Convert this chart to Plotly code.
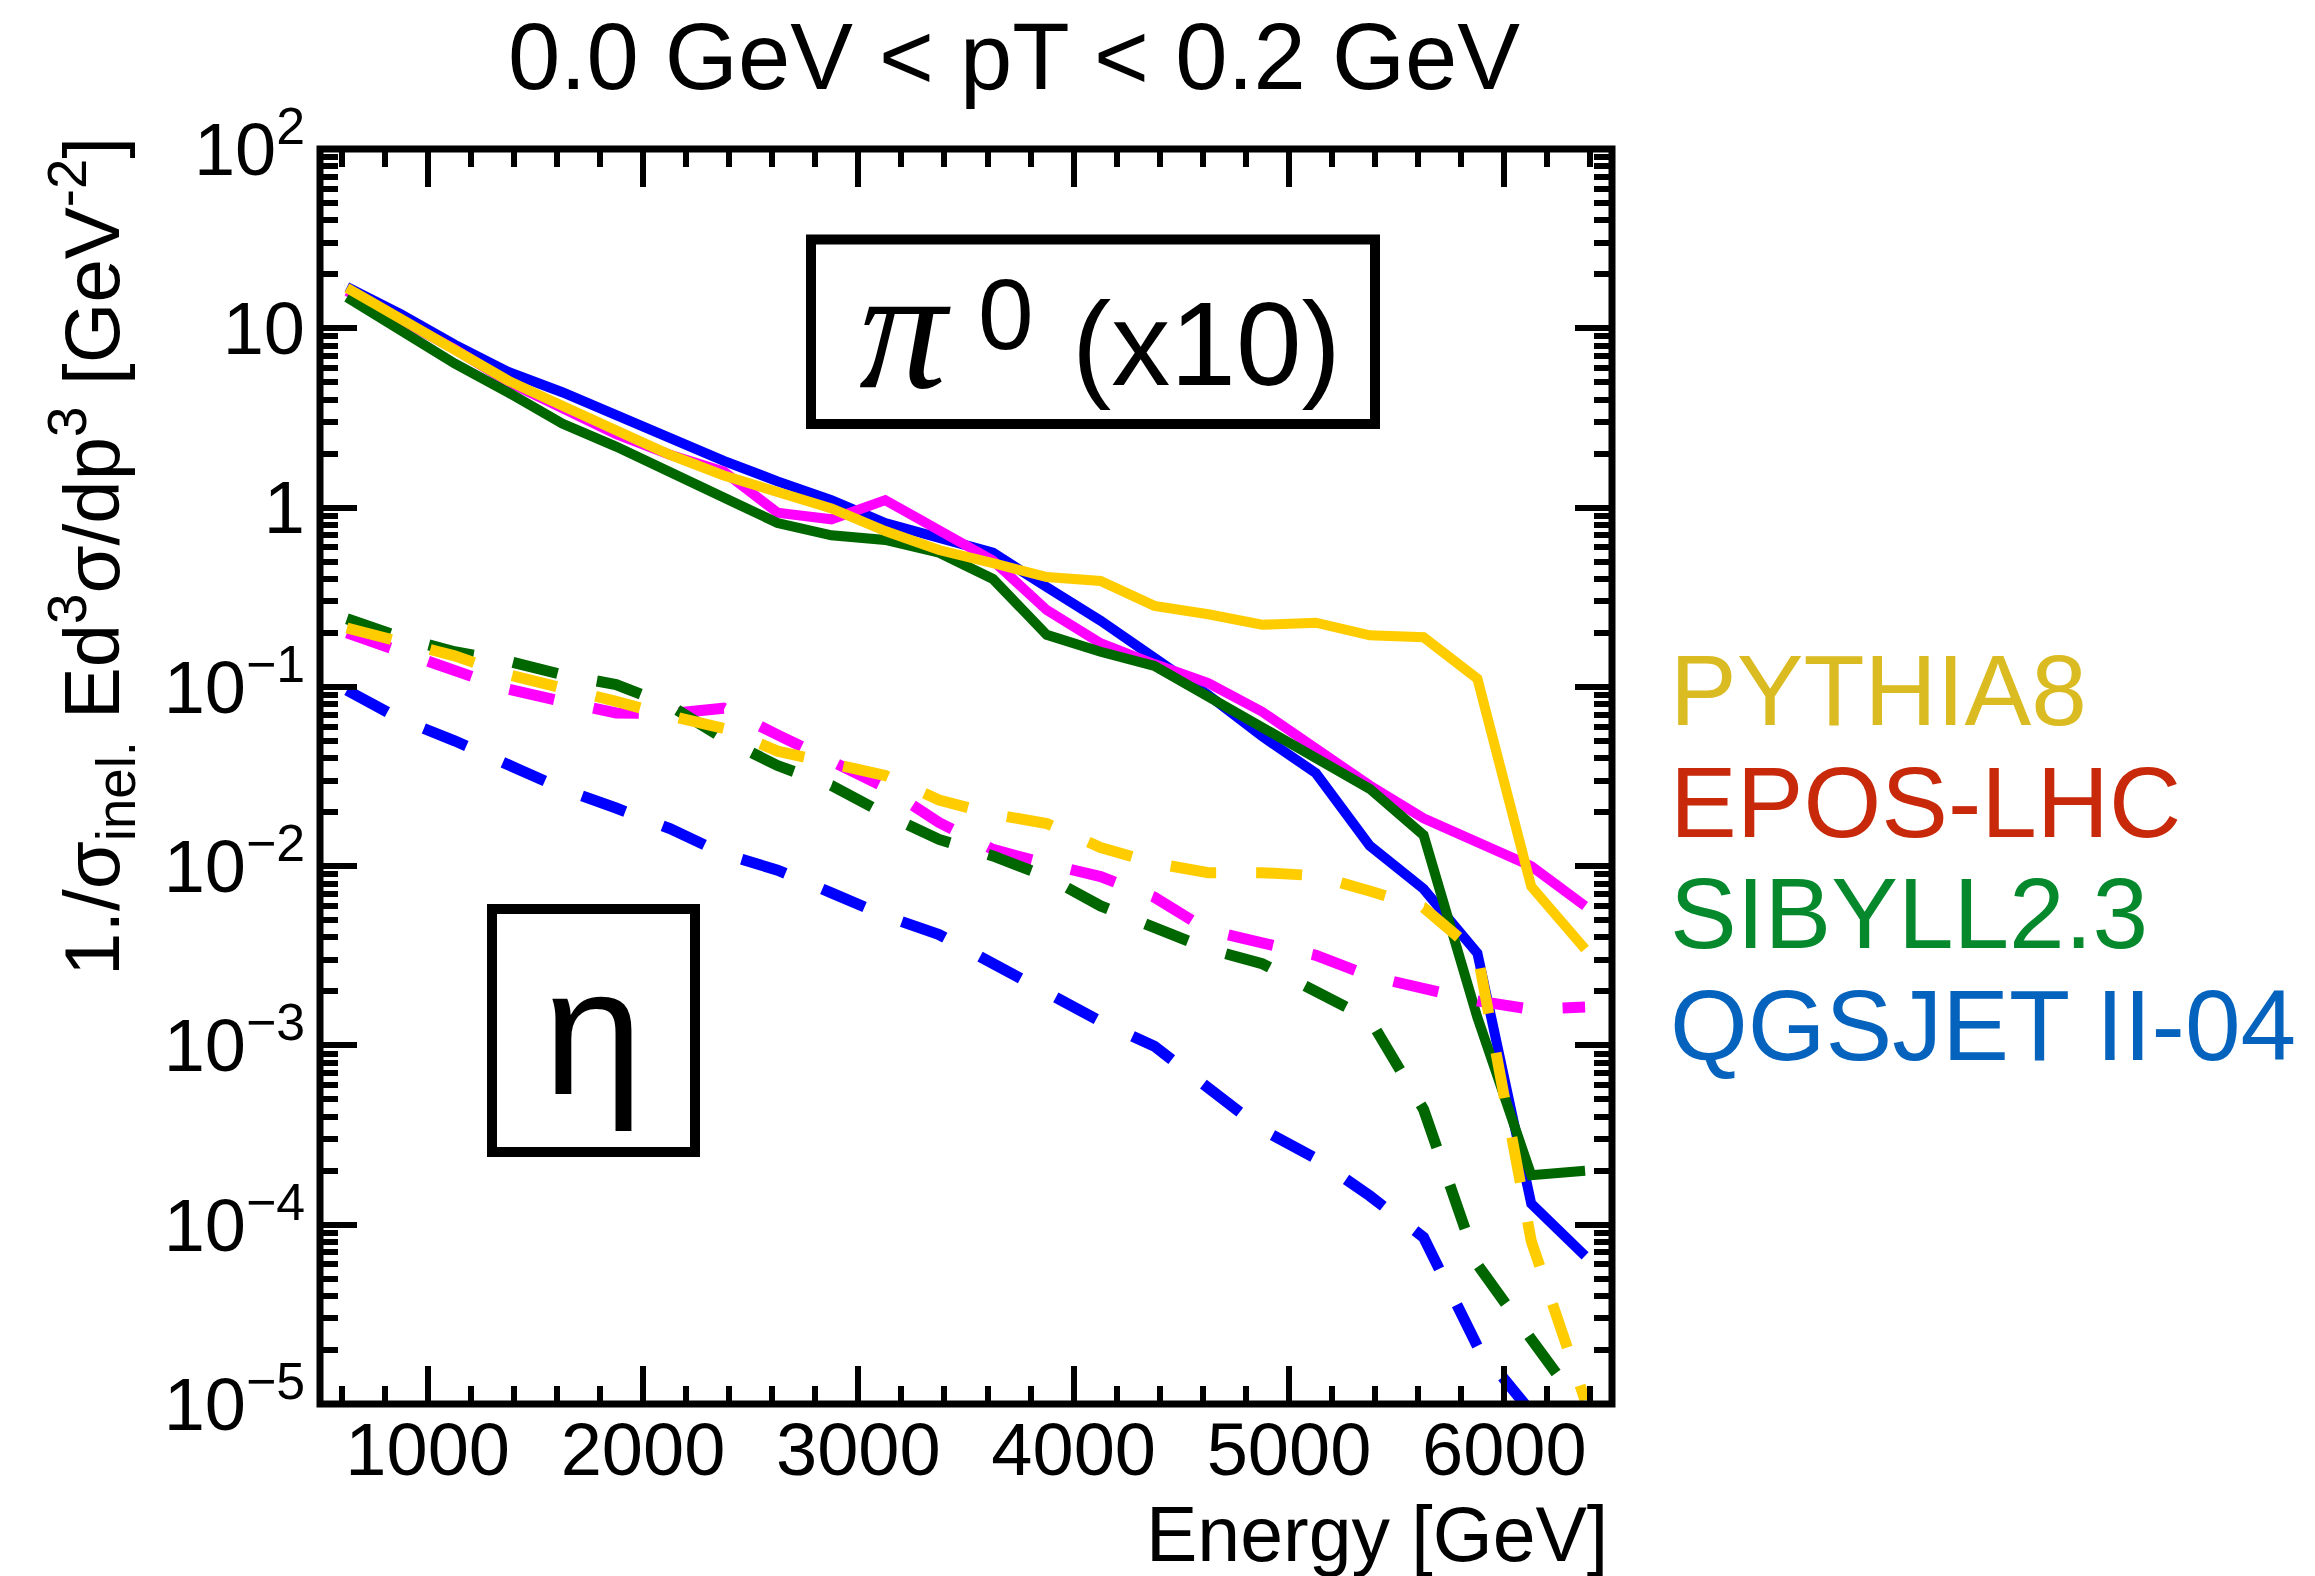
import plotly.graph_objects as go

# ---------------- data ----------------
energy = [625, 875, 1125, 1375, 1625, 1875, 2125, 2375, 2625, 2875, 3125, 3375,
          3625, 3875, 4125, 4375, 4625, 4875, 5125, 5375, 5625, 5875, 6125, 6375]

# pi0 (x10), solid lines
pythia_pi0 = [16.8, 11.4, 7.7, 5.1, 3.7, 2.7, 1.97, 1.51, 1.22, 0.99, 0.74, 0.58,
              0.49, 0.41, 0.39, 0.283, 0.254, 0.222, 0.228, 0.194, 0.189, 0.111, 0.0077, 0.00345]
epos_pi0 = [16.1, 11.3, 7.66, 5.0, 3.54, 2.57, 1.97, 1.59, 0.935, 0.86, 1.10, 0.74,
            0.507, 0.268, 0.175, 0.134, 0.105, 0.0727, 0.045, 0.0282, 0.0185, 0.0138, 0.0100, 0.0060]
sibyll_pi0 = [14.9, 9.7, 6.36, 4.38, 2.94, 2.19, 1.59, 1.16, 0.82, 0.70, 0.66, 0.56,
              0.40, 0.195, 0.157, 0.131, 0.0875, 0.0587, 0.0405, 0.027, 0.0149, 0.00143, 1.89e-4, 2.0e-4]
qgsjet_pi0 = [17.0, 12.0, 8.1, 5.7, 4.4, 3.27, 2.37, 1.82, 1.40, 1.10, 0.82, 0.68,
              0.56, 0.36, 0.234, 0.145, 0.090, 0.053, 0.033, 0.0130, 0.00746, 0.00327, 1.31e-4, 6.7e-5]

# eta, dashed lines
pythia_eta = [0.213, 0.175, 0.149, 0.117, 0.100, 0.083, 0.0689, 0.0587, 0.0438, 0.0374, 0.032, 0.0234,
              0.0195, 0.0173, 0.0127, 0.0104, 0.0092, 0.0092, 0.00885, 0.00726, 0.00587, 0.00327, 8.1e-5, 1.05e-5]
epos_eta = [0.200, 0.157, 0.120, 0.097, 0.083, 0.0715, 0.071, 0.076, 0.054, 0.0384, 0.0275, 0.0175,
            0.0124, 0.0103, 0.00875, 0.00671, 0.00439, 0.00373, 0.00318, 0.00244, 0.00208, 0.00177, 0.00159, 0.00164]
sibyll_eta = [0.240, 0.189, 0.157, 0.139, 0.117, 0.103, 0.0787, 0.0514, 0.0364, 0.0282, 0.0195, 0.0141,
              0.0114, 0.00875, 0.0060, 0.0045, 0.00345, 0.00286, 0.00202, 0.0014, 4.4e-4, 6.0e-5, 2.3e-5, 9e-6]
qgsjet_eta = [0.0957, 0.066, 0.050, 0.0364, 0.027, 0.0211, 0.0162, 0.0117, 0.0095, 0.0071, 0.00528, 0.00415,
              0.00287, 0.00202, 0.00136, 9.9e-4, 5.8e-4, 3.4e-4, 2.34e-4, 1.45e-4, 8.5e-5, 2.1e-5, 9e-6, 3e-6]

models = ["PYTHIA8", "EPOS-LHC", "SIBYLL2.3", "QGSJET II-04"]
line_colors = ["#FFCC00", "#FF00FF", "#006600", "#0000FF"]
label_colors = ["#DBBB22", "#C8290A", "#06892D", "#0563BE"]
pi0_series = [pythia_pi0, epos_pi0, sibyll_pi0, qgsjet_pi0]
eta_series = [pythia_eta, epos_eta, sibyll_eta, qgsjet_eta]

x_tick_vals = [1000, 2000, 3000, 4000, 5000, 6000]
x_tick_text = ["1000", "2000", "3000", "4000", "5000", "6000"]
y_tick_vals = [1e-5, 1e-4, 1e-3, 1e-2, 1e-1, 1, 10, 100]
y_tick_text = ["10<sup>\u22125</sup>", "10<sup>\u22124</sup>", "10<sup>\u22123</sup>",
               "10<sup>\u22122</sup>", "10<sup>\u22121</sup>", "1", "10", "10<sup>2</sup>"]

# ---------------- layout geometry ----------------
W, H = 2315, 1576
L, R, T, B = 320, 1612, 149, 1404
PW, PH = R - L, B - T


def px(xp):
    return (xp - L) / PW


def py(yp):
    return (B - yp) / PH


FONT = "Liberation Sans, Arial, Helvetica, sans-serif"

fig = go.Figure()

draw_order = [3, 1, 2, 0]  # blue, magenta, green, yellow
for i in draw_order:
    fig.add_trace(go.Scatter(x=energy, y=pi0_series[i], mode="lines", name=models[i] + " pi0",
                             line=dict(color=line_colors[i], width=10), showlegend=False))
for i in draw_order:
    fig.add_trace(go.Scatter(x=energy, y=eta_series[i], mode="lines", name=models[i] + " eta",
                             line=dict(color=line_colors[i], width=11, dash="46px,40px"),
                             showlegend=False))

x_minor = [v for v in range(600, 6500, 200) if v % 1000 != 0]
y_minor = [m * 10.0 ** e for e in range(-5, 2) for m in range(2, 10)]

fig.update_layout(
    width=W, height=H, autosize=False,
    margin=dict(l=L, r=W - R, t=T, b=H - B, pad=0),
    paper_bgcolor="white", plot_bgcolor="white",
    font=dict(family=FONT, color="black"),
    showlegend=False,
    xaxis=dict(range=[500, 6500], tickmode="array", tickvals=x_tick_vals, ticktext=x_tick_text,
               ticks="inside", ticklen=38, tickwidth=6, tickcolor="black", mirror="ticks",
               showline=False, showgrid=False, zeroline=False,
               tickfont=dict(family=FONT, size=74, color="black"), ticklabelstandoff=-4,
               minor=dict(tickmode="array", tickvals=x_minor, ticks="inside", ticklen=18,
                          tickwidth=6, tickcolor="black", showgrid=False)),
    yaxis=dict(type="log", range=[-5, 2], tickmode="array", tickvals=y_tick_vals, ticktext=y_tick_text,
               ticks="inside", ticklen=37, tickwidth=6, tickcolor="black", mirror="ticks",
               showline=False, showgrid=False, zeroline=False,
               tickfont=dict(family=FONT, size=74, color="black"), ticklabelstandoff=14,
               minor=dict(tickmode="array", tickvals=y_minor, ticks="inside", ticklen=18,
                          tickwidth=6, tickcolor="black", showgrid=False)),
)

shapes = [
    dict(type="rect", xref="paper", yref="paper", x0=0, x1=1, y0=0, y1=1,
         line=dict(color="black", width=7), layer="above"),
    dict(type="rect", xref="paper", yref="paper", x0=px(811), x1=px(1375), y0=py(424), y1=py(239.5),
         line=dict(color="black", width=10), fillcolor="rgba(0,0,0,0)", layer="above"),
    dict(type="rect", xref="paper", yref="paper", x0=px(492), x1=px(695), y0=py(1152), y1=py(909),
         line=dict(color="black", width=10), fillcolor="rgba(0,0,0,0)", layer="above"),
]
fig.update_layout(shapes=shapes)

ann = []


def add_text(text, xp, yp, size, color="black", family=FONT, xanchor="center", yanchor="middle", angle=0):
    ann.append(dict(text=text, x=px(xp), y=py(yp), xref="paper", yref="paper", showarrow=False,
                    xanchor=xanchor, yanchor=yanchor, textangle=angle,
                    font=dict(family=family, size=size, color=color)))


# title
add_text("0.0 GeV &lt; pT &lt; 0.2 GeV", 1014, 56, 94)
# axis titles
add_text("Energy [GeV]", 1610, 1534, 77, xanchor="right")
add_text("1./\u03c3<sub>inel.</sub> Ed<sup>3</sup>\u03c3/dp<sup>3</sup> [GeV<sup>-2</sup>]",
         92, 557, 78, angle=-90)
# model labels
for name, col, yc in zip(models, label_colors, [690, 802, 913, 1025]):
    add_text(name, 1668, yc, 100, color=col, xanchor="left")
# particle boxes text
add_text("<i>\u03c0</i>", 904.5, 328, 175, family="Liberation Serif, Times New Roman, serif")
add_text("0", 1006, 314, 100)
add_text("(x10)", 1206.5, 344, 118)
add_text("\u03b7", 593, 1031, 180)

fig.update_layout(annotations=ann)

fig.write_html("out.html", config={"displayModeBar": False},
               post_script="document.body.style.margin='0px';document.body.style.overflow='hidden';")
